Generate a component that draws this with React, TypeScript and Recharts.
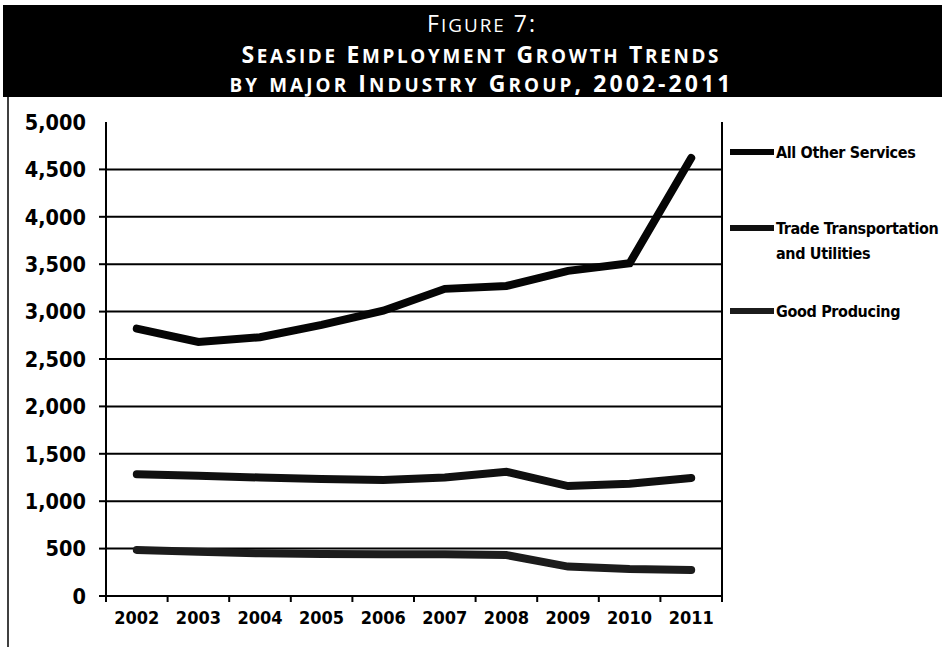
import React from 'react';
import { LineChart, Line, XAxis, YAxis, ReferenceLine } from 'recharts';

// Employment by major industry group, Seaside, 2002-2011
const years = ['2002', '2003', '2004', '2005', '2006', '2007', '2008', '2009', '2010', '2011'];
const allOtherServices = [2820, 2680, 2730, 2860, 3010, 3240, 3270, 3430, 3510, 4620];
const tradeTransportationUtilities = [1285, 1269, 1250, 1234, 1224, 1250, 1310, 1160, 1185, 1245];
const goodProducing = [485, 467, 450, 443, 440, 440, 432, 310, 285, 275];

const yTicks = [0, 500, 1000, 1500, 2000, 2500, 3000, 3500, 4000, 4500, 5000];
const gridValues = [500, 1000, 1500, 2000, 2500, 3000, 3500, 4000, 4500];

const titleLines = ['Figure 7:', 'Seaside Employment Growth Trends', 'by major Industry Group, 2002-2011'];

const seriesKeys = ['allOther', 'trade', 'goods'];
const seriesColors = ['#050505', '#101010', '#1c1c1c'];
const legendLabels = [['All Other Services'], ['Trade Transportation', 'and Utilities'], ['Good Producing']];

// one row per year, centred in its category slot on a 0..10 numeric axis
const rows = years.map((year, i) => ({
  x: i + 0.5,
  year,
  allOther: allOtherServices[i],
  trade: tradeTransportationUtilities[i],
  goods: goodProducing[i],
}));

// tick boundaries at whole numbers, year labels at the half steps
const xTicks: number[] = [];
for (let i = 0; i <= years.length * 2; i++) xTicks.push(i / 2);

const W = 942;
const H = 647;
const axisFont = "'DejaVu Sans Condensed', 'DejaVu Sans', sans-serif";
const titleFont = "'Open Sans', Lato, sans-serif";

const XTick = (props: any) => {
  const { x, y, payload } = props;
  const v = payload.value as number;
  if (Number.isInteger(v)) {
    return <line x1={x} x2={x} y1={y} y2={y + 6} stroke="#000" strokeWidth={2} />;
  }
  return (
    <text x={x} y={y + 28} textAnchor="middle" fontFamily={axisFont} fontStretch="condensed"
      fontWeight="bold" fontSize={18} fill="#000">
      {years[Math.floor(v)]}
    </text>
  );
};

const YTick = (props: any) => {
  const { x, y, payload } = props;
  const v = payload.value as number;
  return (
    <g>
      {v !== 5000 && <line x1={x - 7} x2={x} y1={y} y2={y} stroke="#000" strokeWidth={2} />}
      <text x={x - 20} y={y} dy="0.36em" textAnchor="end" fontFamily={axisFont} fontStretch="condensed"
        fontWeight="bold" fontSize={21.5} fill="#000">
        {v.toLocaleString('en-US')}
      </text>
    </g>
  );
};

// small caps: lowercase runs are upper-cased at a reduced size
const SmallCaps = ({ text, size }: { text: string; size: number }) => {
  const parts: { s: string; small: boolean }[] = [];
  for (const ch of text) {
    const small = ch !== ch.toUpperCase();
    const last = parts[parts.length - 1];
    if (last && last.small === small) last.s += ch;
    else parts.push({ s: ch, small });
  }
  return (
    <>
      {parts.map((p, i) => (
        <tspan key={i} fontSize={p.small ? size * 0.82 : size}>{p.s.toUpperCase()}</tspan>
      ))}
    </>
  );
};

const Title = () => {
  const baselines = [32, 63, 92];
  const centers = [481, 480, 480];
  const widths = [108, 477, 501];
  const size = 23;
  return (
    <svg width={W} height={100} style={{ position: 'absolute', left: 0, top: 0 }}>
      <rect x={3} y={5} width={W - 3} height={92} fill="#000" />
      {titleLines.map((t, i) => (
        <text key={i} x={centers[i]} y={baselines[i]} textAnchor="middle" fill="#fff" fontFamily={titleFont}
          fontWeight={i === 0 ? 'normal' : 'bold'} fontSize={size} textLength={widths[i]} lengthAdjust="spacing">
          <SmallCaps text={t} size={size} />
        </text>
      ))}
    </svg>
  );
};

const SeriesLegend = () => {
  const ys = [152, 228, 311];
  return (
    <svg width={W} height={H} style={{ position: 'absolute', left: 0, top: 0, pointerEvents: 'none' }}>
      <line x1={8} x2={8} y1={97} y2={H} stroke="#000" strokeWidth={1.5} />
      {legendLabels.map((lines, i) => (
        <g key={i}>
          <line x1={730} x2={774} y1={ys[i]} y2={ys[i]} stroke={seriesColors[i]} strokeWidth={6} />
          {lines.map((ln, j) => (
            <text key={j} x={776} y={ys[i] + j * 25} dy="0.36em" fontFamily={axisFont} fontStretch="condensed"
              fontWeight="bold" fontSize={16} letterSpacing={-0.35} fill="#000">
              {ln}
            </text>
          ))}
        </g>
      ))}
    </svg>
  );
};

export default function App() {
  return (
    <div style={{ position: 'absolute', left: 0, top: 0, width: W, height: H, background: '#fff', overflow: 'hidden' }}>
      <LineChart width={W} height={H} data={rows} margin={{ top: 122, right: 220, bottom: 11, left: 0 }}>
        <XAxis
          dataKey="x"
          type="number"
          domain={[0, 10]}
          ticks={xTicks}
          interval={0}
          tick={<XTick />}
          tickLine={false}
          tickSize={0}
          tickMargin={0}
          height={40}
          axisLine={{ stroke: '#000', strokeWidth: 2 }}
        />
        <YAxis
          type="number"
          domain={[0, 5000]}
          ticks={yTicks}
          interval={0}
          tick={<YTick />}
          tickLine={false}
          tickSize={0}
          tickMargin={0}
          width={106}
          axisLine={{ stroke: '#000', strokeWidth: 2 }}
        />
        {gridValues.map((v) => (
          <ReferenceLine key={v} y={v} stroke="#000" strokeWidth={2} />
        ))}
        <ReferenceLine x={10} stroke="#000" strokeWidth={2} />
        {seriesKeys.map((k, i) => (
          <Line
            key={k}
            dataKey={k}
            type="linear"
            stroke={seriesColors[i]}
            strokeWidth={8}
            strokeLinecap="round"
            dot={false}
            isAnimationActive={false}
          />
        ))}
      </LineChart>
      <Title />
      <SeriesLegend />
    </div>
  );
}
